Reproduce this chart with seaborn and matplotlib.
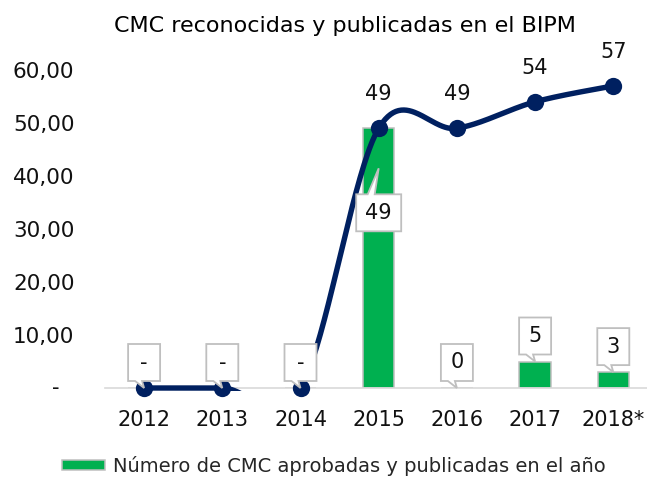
import numpy as np
import matplotlib
matplotlib.use("Agg")
import matplotlib.pyplot as plt
import matplotlib.transforms as mtransforms
from matplotlib.patches import Polygon, Patch, Rectangle
import seaborn as sns

# ---- data ----
years = ["2012", "2013", "2014", "2015", "2016", "2017", "2018*"]
approved = [0, 0, 0, 49, 0, 5, 3]               # CMC approved and published each year
approved_labels = ["-", "-", "-", "49", "0", "5", "3"]
cumulative = [0, 0, 0, 49, 49, 54, 57]          # total CMC recognised in the BIPM
y_ticks = [0, 10, 20, 30, 40, 50, 60]
y_tick_labels = ["-", "10,00", "20,00", "30,00", "40,00", "50,00", "60,00"]

title = "CMC reconocidas y publicadas en el BIPM"
legend_label = "Número de CMC aprobadas y publicadas en el año"

GREEN = "#00B050"
NAVY = "#002060"
GREY = "#BFBFBF"
INK = "#111111"

sns.set_style("white")
plt.rcParams["font.family"] = ["DejaVu Sans"]

W, H = 647, 479
fig = plt.figure(figsize=(W / 100, H / 100), dpi=100)
ax = fig.add_axes([105 / W, 91 / H, 542 / W, 318 / H])

# bars
sns.barplot(x=years, y=approved, color=GREEN, saturation=1, width=0.4,
            edgecolor=GREY, linewidth=1.1, ax=ax, zorder=2)

ax.set_xlim(-0.5, -0.5 + 542 / 78.2)
ax.set_ylim(0, 60)


# smoothed cumulative line (Catmull-Rom through the points)
def smooth_curve(xs, ys, n=60):
    pts = np.column_stack([xs, ys]).astype(float)
    out = []
    for i in range(len(pts) - 1):
        p0 = pts[max(i - 1, 0)]
        p1 = pts[i]
        p2 = pts[i + 1]
        p3 = pts[min(i + 2, len(pts) - 1)]
        c1 = p1 + (p2 - p0) / 6.0
        c2 = p2 - (p3 - p1) / 6.0
        t = np.linspace(0, 1, n)[:, None]
        seg = ((1 - t) ** 3) * p1 + 3 * ((1 - t) ** 2) * t * c1 \
            + 3 * (1 - t) * t ** 2 * c2 + t ** 3 * p2
        out.append(seg if i == 0 else seg[1:])
    return np.vstack(out)


xpos = np.arange(len(years))
curve = smooth_curve(xpos, cumulative)
line, = ax.plot(curve[:, 0], curve[:, 1], color=NAVY, lw=3.9,
                solid_capstyle="round", zorder=3)
clip = Rectangle((-1, -0.55), 10, 100, transform=ax.transData)
line.set_clip_path(clip)
sns.scatterplot(x=xpos, y=cumulative, color=NAVY, s=155, linewidth=0,
                ax=ax, zorder=4, clip_on=False, legend=False)

# labels over the cumulative line
for x, v in zip(xpos, cumulative):
    if v > 0:
        ax.annotate(f"{v:d}", xy=(x, v), xytext=(0, 34 * 0.72),
                    textcoords="offset points", ha="center", va="center",
                    fontsize=15, color=INK, zorder=6,
                    annotation_clip=False)


# callout labels for the bars
def callout(x, y, text, below=False, drop_px=0):
    w = 19 + 13 * max(1, len(text))
    L, R = -w / 2, w / 2
    if below:
        T, B = -26, -63
        verts = [(L, T), (-11, T), (0, 0), (-4, T), (R, T), (R, B), (L, B)]
        ty = (T + B) / 2
    else:
        B, T = 7, 44
        verts = [(L, B), (-9, B), (0, 0), (-2, B), (R, B), (R, T), (L, T)]
        ty = (T + B) / 2
    verts = [(vx, vy - drop_px) for vx, vy in verts]
    ty -= drop_px
    tr = fig.dpi_scale_trans + mtransforms.ScaledTranslation(x, y, ax.transData)
    poly = Polygon(np.array(verts) / fig.dpi, closed=True, transform=tr,
                   facecolor="white", edgecolor=GREY, lw=1.3, zorder=5,
                   clip_on=False)
    ax.add_patch(poly)
    ax.annotate(text, xy=(x, y), xytext=(0, ty * 0.72),
                textcoords="offset points", ha="center", va="center",
                fontsize=15, color=INK, zorder=6, annotation_clip=False)


for x, v, lab in zip(xpos, approved, approved_labels):
    if v >= 40:
        callout(x, v, lab, below=True, drop_px=40)
    else:
        callout(x, v, lab)

# axes styling
for side in ("top", "right", "left"):
    ax.spines[side].set_visible(False)
ax.spines["bottom"].set_color("#D9D9D9")
ax.spines["bottom"].set_linewidth(1.2)
ax.set_yticks(y_ticks)
ax.set_yticklabels([""] + y_tick_labels[1:])
ax.text(-49 / 542, 0, y_tick_labels[0], transform=ax.get_yaxis_transform(),
        ha="center", va="center", fontsize=15, color=INK)
ax.tick_params(axis="y", length=0, pad=22, labelsize=15.5, labelcolor=INK)
ax.tick_params(axis="x", length=0, pad=16, labelsize=15, labelcolor=INK)
ax.set_xlabel("")
ax.set_ylabel("")
ax.grid(False)

fig.text(345 / W, 1 - 32 / H, title, ha="center", va="baseline",
         fontsize=16, color="black")

fig.legend(handles=[Patch(facecolor=GREEN, edgecolor=GREY, lw=1.1,
                          label=legend_label)],
           loc="center", bbox_to_anchor=(334 / W, 1 - 466 / H),
           frameon=False, fontsize=14, handlelength=2.2, handleheight=0.45,
           handletextpad=0.45, borderaxespad=0, borderpad=0)

fig.savefig("out.png", dpi=100)
